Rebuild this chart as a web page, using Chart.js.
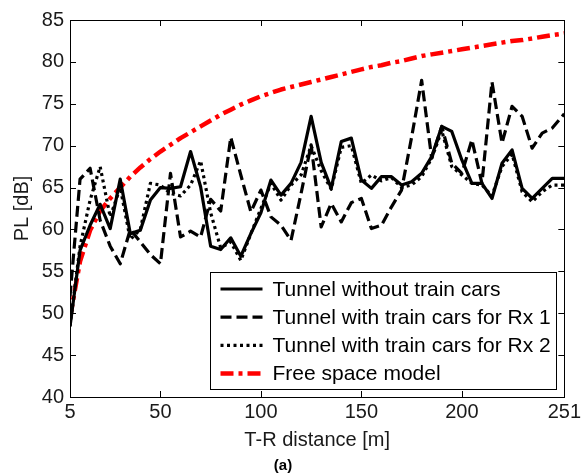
<!DOCTYPE html>
<html>
<head>
<meta charset="utf-8">
<script src="https://cdn.jsdelivr.net/npm/chart.js@4.4.0/dist/chart.umd.min.js"></script>
<style>
	html, body { margin: 0; padding: 0; background: #fff; }
	#pl-chart { display: block; }
</style>
</head>
<body>
<canvas id="pl-chart" width="584" height="475"></canvas>
<script>
// T-R distance in m
const distance = [5, 10, 15, 20, 25, 30, 35, 40, 45, 50, 55, 60, 65, 70, 75, 80, 85, 90, 95, 100,
	105, 110, 115, 120, 125, 130, 135, 140, 145, 150, 155, 160, 165, 170, 175, 180, 185, 190, 195, 200,
	205, 210, 215, 220, 225, 230, 235, 240, 245, 251];

// PL in dB
const noTrain = [48.4, 57.5, 60.5, 63, 60.1, 66, 59.5, 59.9, 63.5, 65, 64.9, 65.1, 69.3, 65.1, 58, 57.6, 59, 56.8, 59.5, 62,
	65.9, 64.1, 65.5, 68, 73.5, 68, 64.9, 70.5, 70.9, 65.9, 64.9, 66.3, 66.3, 65.3, 65.7, 66.7, 68.7, 72.3, 71.7, 68.3,
	65.5, 65.5, 63.7, 67.9, 69.5, 64.9, 63.7, 64.9, 66.1, 66.1];

const trainRx1 = [52, 66, 67.3, 61.1, 58, 55.9, 60, 58.5, 57, 55.9, 66.7, 59.1, 59.8, 59.1, 63.6, 62.2, 71, 66.5, 62.1, 64.7,
	61.5, 60.5, 58.7, 64.3, 70.1, 60.3, 63.1, 60.9, 63.2, 63.7, 60.1, 60.5, 62.7, 64.7, 71, 77.8, 68.5, 72.3, 67.9, 66.7,
	70.7, 65.5, 77.6, 70.3, 74.7, 73.5, 69.7, 71.5, 72.1, 73.8];

const trainRx2 = [48.5, 58, 63.5, 67.5, 61.5, 65, 58.8, 60, 65.5, 65.3, 64.3, 64, 65.3, 68.2, 62, 57.8, 58.5, 56.3, 59.5, 62.5,
	65.5, 63.5, 65.3, 66.5, 70, 67, 64.8, 69.8, 70, 65.5, 66.5, 65.8, 66.2, 65, 65.3, 66.3, 68.5, 71.8, 67.5, 66.5,
	65.5, 65.3, 64, 67.5, 69, 64.5, 63.3, 64.5, 65.3, 65.3];

const freeSpace = [49.5, 56.2, 59.9, 62.2, 63.7, 65, 66.3, 67.4, 68.4, 69.3, 70.1, 70.9, 71.6, 72.3, 73, 73.7, 74.3, 74.9, 75.4, 75.9,
	76.3, 76.7, 77, 77.3, 77.6, 77.9, 78.2, 78.5, 78.8, 79.1, 79.4, 79.6, 79.9, 80.1, 80.4, 80.7, 80.9, 81.1, 81.3, 81.5,
	81.7, 81.9, 82.1, 82.3, 82.5, 82.6, 82.8, 83, 83.2, 83.4];

const xTicks = [5, 50, 100, 150, 200, 251];
const seriesNames = ['Tunnel without train cars', 'Tunnel with train cars for Rx 1', 'Tunnel with train cars for Rx 2', 'Free space model'];

const font = 'Liberation Sans, Arial, Helvetica, sans-serif';
const textColor = '#1a1a1a';

function points(values) {
	return values.map((v, i) => ({x: distance[i], y: v}));
}

// matlab style box, inward ticks and legend inside the axes
const frame = {
	id: 'frame',
	afterDraw(chart) {
		const {ctx, chartArea: a, scales: {x, y}} = chart;
		ctx.save();
		ctx.strokeStyle = '#000';
		ctx.lineWidth = 1;
		ctx.strokeRect(Math.round(a.left) + 0.5, Math.round(a.top) + 0.5, Math.round(a.right - a.left), Math.round(a.bottom - a.top));
		ctx.beginPath();
		x.ticks.forEach(t => {
			const px = Math.round(x.getPixelForValue(t.value)) + 0.5;
			ctx.moveTo(px, a.bottom); ctx.lineTo(px, a.bottom - 6);
			ctx.moveTo(px, a.top); ctx.lineTo(px, a.top + 6);
		});
		y.ticks.forEach(t => {
			const py = Math.round(y.getPixelForValue(t.value)) + 0.5;
			ctx.moveTo(a.left, py); ctx.lineTo(a.left + 6, py);
			ctx.moveTo(a.right, py); ctx.lineTo(a.right - 6, py);
		});
		ctx.stroke();

		// legend
		const bx = Math.round(a.left + 140) + 0.5;
		const by = Math.round(a.bottom - 125) + 0.5;
		const bw = Math.round(a.right - 8 - (a.left + 140));
		const bh = 117;
		ctx.fillStyle = '#fff';
		ctx.fillRect(bx, by, bw, bh);
		ctx.strokeRect(bx, by, bw, bh);
		ctx.font = '21px ' + font;
		ctx.textBaseline = 'middle';
		chart.data.datasets.forEach((ds, i) => {
			const ry = by + 16.5 + i * 28.2;
			ctx.beginPath();
			ctx.strokeStyle = ds.borderColor;
			ctx.lineWidth = ds.borderWidth;
			ctx.setLineDash(ds.borderDash || []);
			ctx.moveTo(bx + 10, ry);
			ctx.lineTo(bx + 52, ry);
			ctx.stroke();
			ctx.setLineDash([]);
			ctx.fillStyle = '#000';
			ctx.fillText(ds.label, bx + 62, ry + 1);
		});
		ctx.restore();
	}
};

const chartCanvas = new Chart(document.getElementById('pl-chart'), {
	type: 'line',
	data: {
		datasets: [
			{
				label: seriesNames[0],
				data: points(noTrain),
				borderColor: '#000',
				borderWidth: 3.2
			},
			{
				label: seriesNames[1],
				data: points(trainRx1),
				borderColor: '#000',
				borderWidth: 3.2,
				borderDash: [11, 5]
			},
			{
				label: seriesNames[2],
				data: points(trainRx2),
				borderColor: '#000',
				borderWidth: 3.2,
				borderDash: [3, 3.5]
			},
			{
				label: seriesNames[3],
				data: points(freeSpace),
				borderColor: '#ff0000',
				borderWidth: 4.5,
				borderDash: [13, 5, 4, 5]
			}
		]
	},
	options: {
		responsive: false,
		animation: false,
		layout: {padding: {top: 20, right: 18, left: 0, bottom: 0}},
		elements: {
			point: {radius: 0},
			line: {tension: 0, borderCapStyle: 'butt', borderJoinStyle: 'round'}
		},
		plugins: {
			legend: {display: false},
			tooltip: {enabled: false},
			title: {
				display: true,
				position: 'bottom',
				text: '(a)',
				color: '#000',
				padding: {top: 0, bottom: 0},
				font: {family: font, size: 15, weight: 'bold', lineHeight: 1.2}
			}
		},
		scales: {
			x: {
				type: 'linear',
				min: 5,
				max: 251,
				afterBuildTicks: scale => { scale.ticks = xTicks.map(v => ({value: v})); },
				afterFit: scale => { scale.height = 60; },
				grid: {display: false, drawTicks: false},
				border: {display: false},
				ticks: {color: textColor, padding: 3, maxRotation: 0, autoSkip: false, font: {family: font, size: 20}},
				title: {display: true, text: 'T-R distance [m]', color: textColor, padding: {top: 0, bottom: 5}, font: {family: font, size: 20, lineHeight: 1.2}}
			},
			y: {
				min: 40,
				max: 85,
				afterFit: scale => { scale.width = 70; },
				grid: {display: false, drawTicks: false},
				border: {display: false},
				ticks: {stepSize: 5, color: textColor, padding: 6, font: {family: font, size: 20}},
				title: {display: true, text: 'PL [dB]', color: textColor, padding: {top: 10, bottom: 0}, font: {family: font, size: 20, lineHeight: 1.2}}
			}
		}
	},
	plugins: [frame]
});
</script>
</body>
</html>
